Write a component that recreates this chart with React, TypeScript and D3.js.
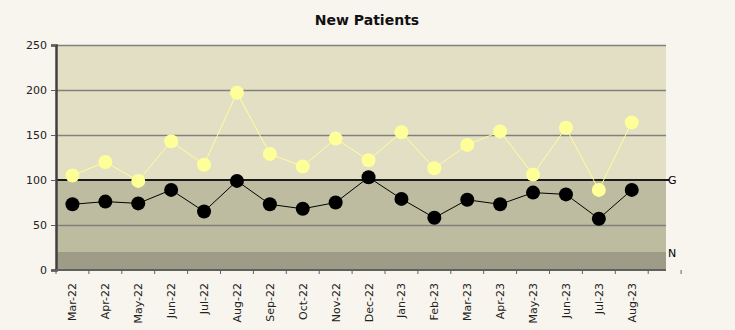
import React, { useRef, useEffect } from "react";
import * as d3 from "d3";

const months = [
  "Mar-22", "Apr-22", "May-22", "Jun-22", "Jul-22", "Aug-22", "Sep-22", "Oct-22", "Nov-22",
  "Dec-22", "Jan-23", "Feb-23", "Mar-23", "Apr-23", "May-23", "Jun-23", "Jul-23", "Aug-23",
];
const upperSeries = [105, 120, 99, 143, 117, 197, 129, 115, 146, 122, 153, 113, 139, 154, 106, 158, 89, 164];
const lowerSeries = [73, 76, 74, 89, 65, 99, 73, 68, 75, 103, 79, 58, 78, 73, 86, 84, 57, 89];
const yTicks = [0, 50, 100, 150, 200, 250];
const goalValue = 100;
const floorValue = 20;

function App() {
  const svgRef = useRef<SVGSVGElement>(null);

  const width = 735;
  const height = 330;
  const left = 56;
  const plotRight = 666;
  const top = 45;
  const bottom = 270;
  const step = 32.9;

  useEffect(() => {
    const svg = d3.select(svgRef.current);
    svg.selectAll("*").remove();

    const x = d3
      .scaleBand<string>()
      .domain(months)
      .range([left, left + step * months.length]);

    const y = d3.scaleLinear().domain([0, 250]).range([bottom, top]);

    // Background bands
    svg.append("rect").attr("width", width).attr("height", height).attr("fill", "#f8f5ee");
    svg.append("rect")
      .attr("x", left).attr("y", y(250))
      .attr("width", plotRight - left).attr("height", y(goalValue) - y(250))
      .attr("fill", "#e3dfc5");
    svg.append("rect")
      .attr("x", left).attr("y", y(goalValue))
      .attr("width", plotRight - left).attr("height", y(floorValue) - y(goalValue))
      .attr("fill", "#bdbca0");
    svg.append("rect")
      .attr("x", left).attr("y", y(floorValue))
      .attr("width", plotRight - left).attr("height", y(0) - y(floorValue))
      .attr("fill", "#9e9c86");

    // Gridlines
    svg.selectAll(".grid")
      .data(yTicks.filter((t) => t !== 0 && t !== goalValue))
      .join("line")
      .attr("class", "grid")
      .attr("x1", left).attr("x2", plotRight)
      .attr("y1", (d) => y(d) + 0.5).attr("y2", (d) => y(d) + 0.5)
      .attr("stroke", "#808080").attr("stroke-width", 1.3);

    // Goal line
    svg.append("line")
      .attr("x1", left).attr("x2", plotRight + 3)
      .attr("y1", y(goalValue)).attr("y2", y(goalValue))
      .attr("stroke", "#1a1a1a").attr("stroke-width", 2);
    svg.append("text")
      .attr("x", plotRight + 2).attr("y", y(goalValue) + 4)
      .attr("font-family", "DejaVu Sans").attr("font-size", 11)
      .text("G");
    svg.append("text")
      .attr("x", plotRight + 2).attr("y", y(floorValue) + 5)
      .attr("font-family", "DejaVu Sans").attr("font-size", 11)
      .text("N");

    // Y axis
    const yAxis = d3.axisLeft(y).tickValues(yTicks).tickSize(5).tickPadding(4);
    const gy = svg.append("g").attr("transform", `translate(${left},0)`).call(yAxis);
    gy.select(".domain").attr("stroke", "#404040").attr("stroke-width", 2.5);
    gy.selectAll(".tick line").attr("stroke", "#606060");
    gy.selectAll("text").attr("font-family", "DejaVu Sans").attr("font-size", 11).attr("fill", "#222");

    // X axis baseline and ticks
    svg.append("line")
      .attr("x1", left).attr("x2", plotRight)
      .attr("y1", bottom).attr("y2", bottom)
      .attr("stroke", "#606060").attr("stroke-width", 2);
    const tickPos = d3.range(months.length + 2).map((i) => left + i * x.step());
    svg.selectAll(".xtick")
      .data(tickPos)
      .join("line")
      .attr("class", "xtick")
      .attr("x1", (d) => d).attr("x2", (d) => d)
      .attr("y1", bottom).attr("y2", bottom + 4)
      .attr("stroke", "#606060");

    svg.selectAll(".xlabel")
      .data(months)
      .join("text")
      .attr("class", "xlabel")
      .attr("transform", (d) => `translate(${(x(d) as number) + x.bandwidth() / 2 + 4},${bottom + 13}) rotate(-90)`)
      .attr("text-anchor", "end")
      .attr("font-family", "DejaVu Sans").attr("font-size", 11).attr("fill", "#222")
      .text((d) => d);

    // Lines
    const line = d3
      .line<number>()
      .x((_, i) => (x(months[i]) as number) + x.bandwidth() / 2)
      .y((d) => y(d));

    svg.append("path").attr("d", line(upperSeries)).attr("fill", "none").attr("stroke", "#ffff99").attr("stroke-width", 1);
    svg.append("path").attr("d", line(lowerSeries)).attr("fill", "none").attr("stroke", "#000").attr("stroke-width", 1);

    svg.selectAll(".pu")
      .data(upperSeries)
      .join("circle")
      .attr("class", "pu")
      .attr("cx", (_, i) => (x(months[i]) as number) + x.bandwidth() / 2)
      .attr("cy", (d) => y(d))
      .attr("r", 7)
      .attr("fill", "#ffff99");

    svg.selectAll(".pl")
      .data(lowerSeries)
      .join("circle")
      .attr("class", "pl")
      .attr("cx", (_, i) => (x(months[i]) as number) + x.bandwidth() / 2)
      .attr("cy", (d) => y(d))
      .attr("r", 7)
      .attr("fill", "#000");

    // Title
    svg.append("text")
      .attr("x", 367).attr("y", 25)
      .attr("text-anchor", "middle")
      .attr("font-family", "DejaVu Sans").attr("font-size", 14).attr("font-weight", 600)
      .attr("fill", "#111")
      .text("New Patients");
  }, []);

  return (
    <svg ref={svgRef} width={width} height={height} style={{ display: "block", position: "absolute", left: 0, top: 0 }} />
  );
}

export default App;
